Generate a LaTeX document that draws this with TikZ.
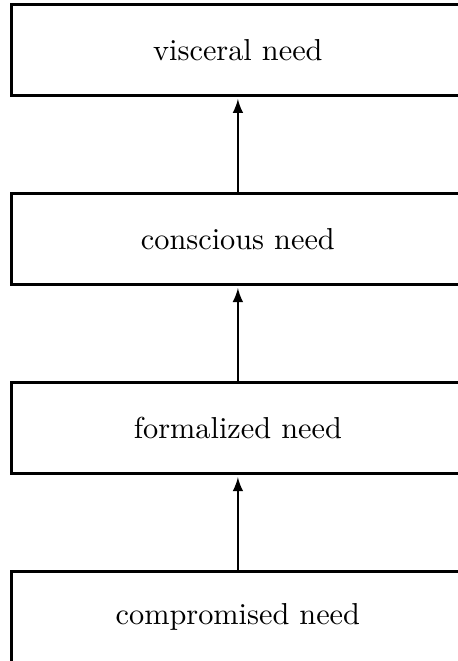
\documentclass[tikz,border=0pt]{standalone}
\usepackage{amsmath,amssymb}
\usepackage{tikz}
\usetikzlibrary{shapes,arrows,positioning}
\tikzstyle{need} = [rectangle, draw, line width=1pt, text centered,
    minimum width=149.5pt, minimum height=30.1pt, inner sep=0pt]
\tikzstyle{up} = [draw, semithick, -latex, shorten >=0.7pt]

\begin{document}
\begin{tikzpicture}[node distance=31.3pt]
    \useasboundingbox (-78.5pt,16.4pt) rectangle (72.6pt,-201.7pt);

    \node[need] (visceral) {visceral need};
    \node[need, below=of visceral] (conscious) {conscious need};
    \node[need, below=of conscious] (formalized) {formalized need};
    \node[need, below=of formalized] (compromised) {compromised need};

    \path[up] (conscious) -- (visceral);
    \path[up] (formalized) -- (conscious);
    \path[up] (compromised) -- (formalized);
\end{tikzpicture}
\end{document}
